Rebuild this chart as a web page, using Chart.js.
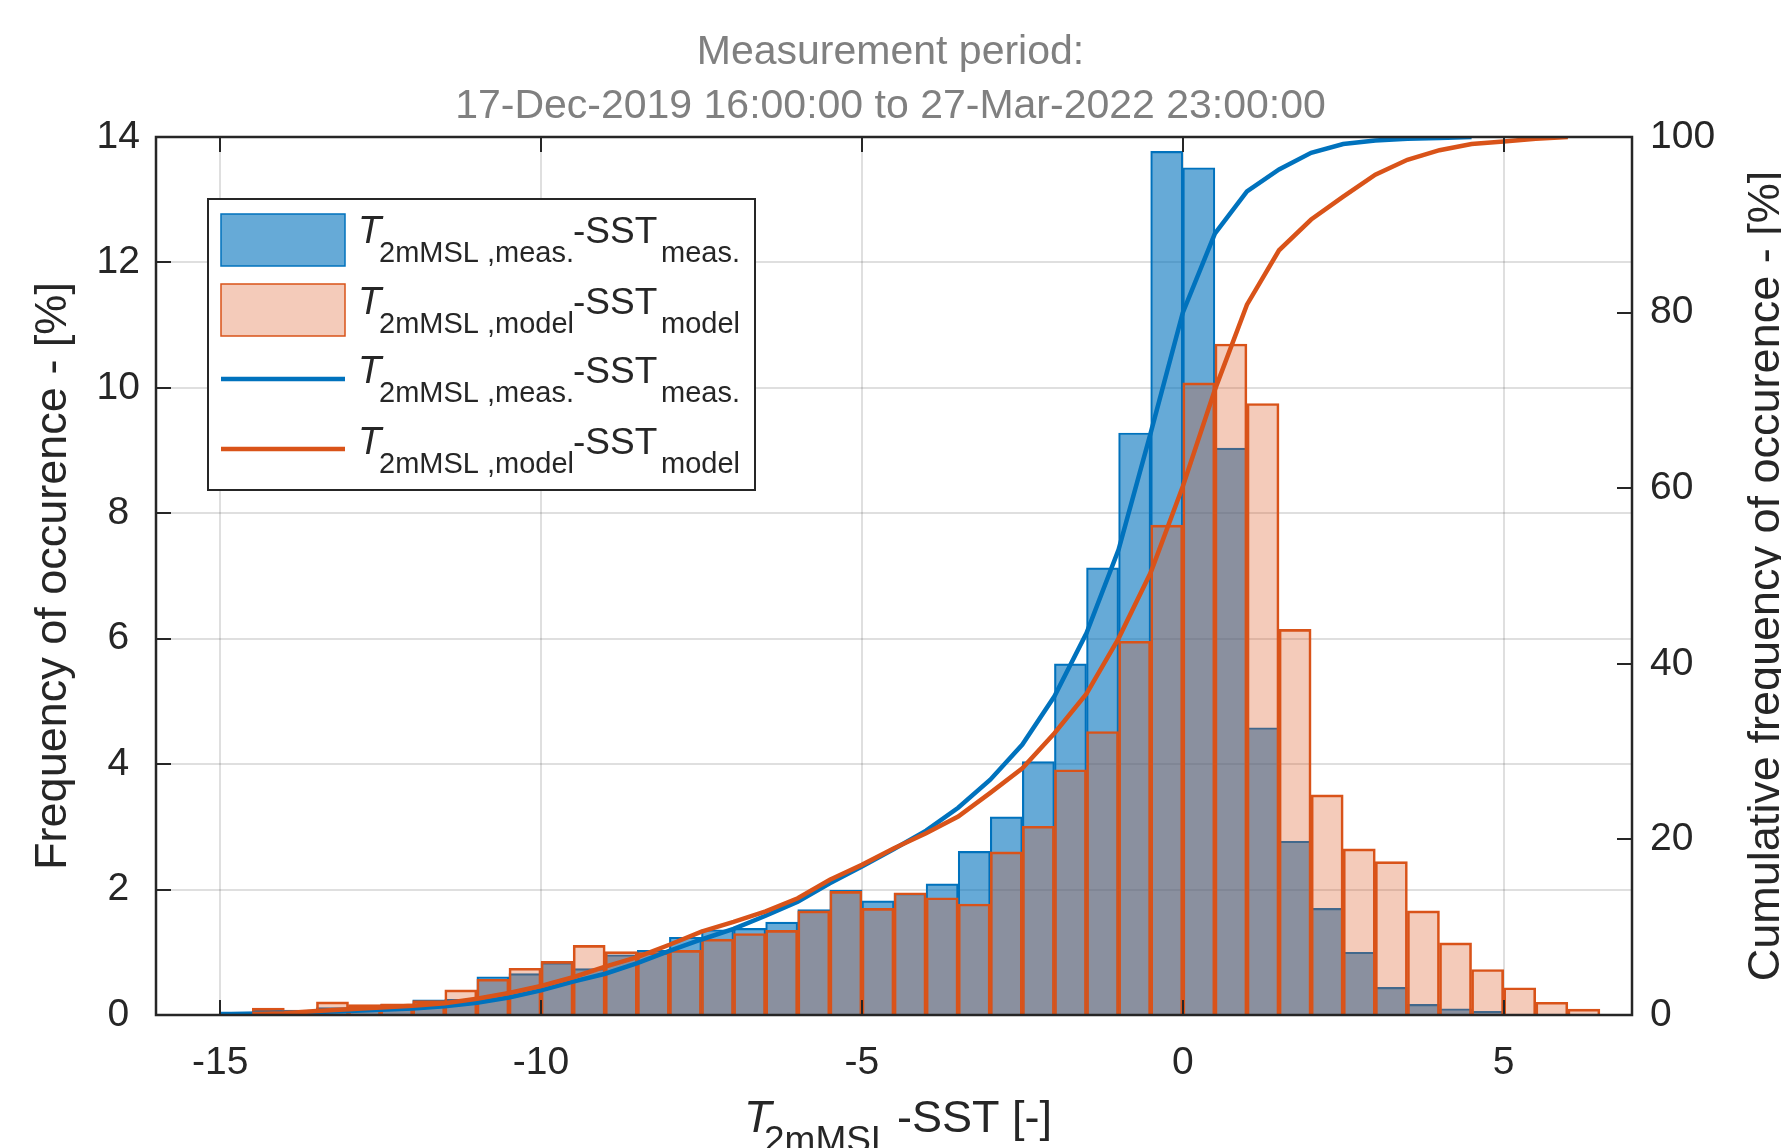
<!DOCTYPE html>
<html>
<head>
<meta charset="utf-8">
<script src="https://cdn.jsdelivr.net/npm/chart.js@4.4.1/dist/chart.umd.min.js"></script>
<style>
    html, body { margin: 0; padding: 0; background: #ffffff; }
    #caixa { width: 1781px; height: 1148px; }
</style>
</head>
<body>
<div id="caixa"><canvas id="grafico" width="1781" height="1148"></canvas></div>
<script>
// Histograma (frequencia por classe de 0.5) - centros das classes
const centrosMedido = [-14.75, -14.25, -13.75, -13.25, -12.75, -12.25, -11.75, -11.25, -10.75, -10.25,
    -9.75, -9.25, -8.75, -8.25, -7.75, -7.25, -6.75, -6.25, -5.75, -5.25,
    -4.75, -4.25, -3.75, -3.25, -2.75, -2.25, -1.75, -1.25, -0.75, -0.25,
    0.25, 0.75, 1.25, 1.75, 2.25, 2.75, 3.25, 3.75, 4.25, 4.75];
const freqMedido = [0.05, 0.08, 0.07, 0.12, 0.15, 0.17, 0.24, 0.25, 0.61, 0.66,
    0.835, 0.74, 0.96, 1.03, 1.24, 1.36, 1.38, 1.48, 1.68, 1.99,
    1.82, 1.94, 2.09, 2.61, 3.16, 4.04, 5.60, 7.13, 9.28, 13.77,
    13.51, 9.04, 4.58, 2.77, 1.70, 1.00, 0.44, 0.17, 0.10, 0.06];

const centrosModelo = [-14.25, -13.75, -13.25, -12.75, -12.25, -11.75, -11.25, -10.75, -10.25,
    -9.75, -9.25, -8.75, -8.25, -7.75, -7.25, -6.75, -6.25, -5.75, -5.25,
    -4.75, -4.25, -3.75, -3.25, -2.75, -2.25, -1.75, -1.25, -0.75, -0.25,
    0.25, 0.75, 1.25, 1.75, 2.25, 2.75, 3.25, 3.75, 4.25, 4.75, 5.25, 5.75, 6.25];
const freqModelo = [0.11, 0.08, 0.21, 0.165, 0.18, 0.23, 0.40, 0.57, 0.745,
    0.855, 1.11, 1.01, 0.995, 1.03, 1.21, 1.30, 1.35, 1.66, 1.97,
    1.70, 1.95, 1.87, 1.77, 2.60, 3.01, 3.91, 4.52, 5.96, 7.81,
    10.08, 10.70, 9.75, 6.15, 3.51, 2.65, 2.445, 1.66, 1.15, 0.725, 0.434, 0.203, 0.093];

// Frequencia acumulada (eixo direito) nos limites das classes
const limitesMedido = [-15, -14.5, -14, -13.5, -13, -12.5, -12, -11.5, -11, -10.5,
    -10, -9.5, -9, -8.5, -8, -7.5, -7, -6.5, -6, -5.5,
    -5, -4.5, -4, -3.5, -3, -2.5, -2, -1.5, -1, -0.5,
    0, 0.5, 1, 1.5, 2, 2.5, 3, 3.5, 4, 4.5];
const acumMedido = [0.05, 0.15, 0.25, 0.35, 0.45, 0.6, 0.75, 1.0, 1.4, 2.0,
    2.8, 3.8, 4.7, 5.9, 7.3, 8.6, 9.8, 11.3, 12.9, 15.0,
    16.9, 18.9, 21.0, 23.6, 26.8, 30.8, 36.3, 43.5, 53.0, 66.3,
    80.0, 89.0, 93.8, 96.3, 98.2, 99.2, 99.6, 99.8, 99.9, 100];

const limitesModelo = [-14.5, -14, -13.5, -13, -12.5, -12, -11.5, -11, -10.5, -10,
    -9.5, -9, -8.5, -8, -7.5, -7, -6.5, -6, -5.5, -5,
    -4.5, -4, -3.5, -3, -2.5, -2, -1.5, -1, -0.5, 0,
    0.5, 1, 1.5, 2, 2.5, 3, 3.5, 4, 4.5, 5, 5.5, 6];
const acumModelo = [0.1, 0.2, 0.45, 0.65, 0.85, 1.05, 1.35, 1.85, 2.5, 3.3,
    4.3, 5.5, 6.6, 8.0, 9.5, 10.6, 11.8, 13.3, 15.4, 17.1,
    19.0, 20.7, 22.6, 25.3, 28.1, 32.1, 36.6, 42.9, 50.4, 60.2,
    71.2, 80.9, 87.1, 90.6, 93.2, 95.7, 97.4, 98.5, 99.2, 99.5, 99.8, 100];

const ticksX = [-15, -10, -5, 0, 5];
const ticksY = [0, 2, 4, 6, 8, 10, 12, 14];
const ticksY2 = [0, 20, 40, 60, 80, 100];

const titulo = ["Measurement period:", "17-Dec-2019 16:00:00 to 27-Mar-2022 23:00:00"];
const rotuloY = "Frequency of occurence - [%]";
const rotuloY2 = "Cumulative frequency of occurence - [%]";
const legendas = [
    { sub1: "2mMSL ,meas.", sub2: "meas." },
    { sub1: "2mMSL ,model", sub2: "model" },
    { sub1: "2mMSL ,meas.", sub2: "meas." },
    { sub1: "2mMSL ,model", sub2: "model" },
];

const AZUL = "#0072BD";
const LARANJA = "#D95319";
const AZUL_FUNDO = "rgba(0, 114, 189, 0.6)";
const LARANJA_FUNDO = "rgba(217, 83, 25, 0.3)";
const TINTA = "#262626";
const FONTE = "'Liberation Sans', Arial, Helvetica, sans-serif";

document.addEventListener("DOMContentLoaded", function () {
    const graficoCanvas = document.getElementById("grafico");

    const pontos = (xs, ys) => xs.map((x, i) => ({ x: x, y: ys[i] }));

    // eixos estilo matlab: caixa + marcas para dentro + rotulos + legenda
    const eixosPlugin = {
        id: "eixos",
        afterDatasetsDraw(chart) {
            const { ctx, chartArea: a, scales } = chart;
            ctx.save();
            ctx.strokeStyle = TINTA;
            ctx.lineWidth = 2;
            ctx.beginPath();
            ticksX.forEach((v) => {
                const px = Math.round(scales.x.getPixelForValue(v));
                ctx.moveTo(px, a.bottom); ctx.lineTo(px, a.bottom - 15);
                ctx.moveTo(px, a.top); ctx.lineTo(px, a.top + 15);
            });
            ticksY.forEach((v) => {
                const py = Math.round(scales.y.getPixelForValue(v));
                ctx.moveTo(a.left, py); ctx.lineTo(a.left + 15, py);
            });
            ticksY2.forEach((v) => {
                const py = Math.round(scales.y2.getPixelForValue(v));
                ctx.moveTo(a.right, py); ctx.lineTo(a.right - 15, py);
            });
            ctx.stroke();
            ctx.lineWidth = 2.5;
            ctx.strokeRect(a.left, a.top, a.right - a.left, a.bottom - a.top);
            ctx.restore();
        },
        afterDraw(chart) {
            const { ctx, chartArea: a } = chart;
            const meio = (a.top + a.bottom) / 2;
            ctx.save();
            ctx.fillStyle = TINTA;
            ctx.textBaseline = "alphabetic";

            // rotulos dos eixos y (lidos de baixo para cima)
            ctx.font = "45px " + FONTE;
            ctx.textAlign = "center";
            ctx.save();
            ctx.translate(66, meio);
            ctx.rotate(-Math.PI / 2);
            ctx.fillText(rotuloY, 0, 0);
            ctx.restore();
            ctx.save();
            ctx.translate(1779, meio);
            ctx.rotate(-Math.PI / 2);
            ctx.fillText(rotuloY2, 0, 0);
            ctx.restore();

            // rotulo do eixo x com subscrito
            ctx.textAlign = "left";
            const base = 1132;
            ctx.font = "italic 45px " + FONTE; ctx.fillText("T", 744, base);
            ctx.font = "37px " + FONTE; ctx.fillText("2mMSL", 764, base + 20);
            ctx.font = "45px " + FONTE; ctx.fillText("-SST [-]", 897, base);

            // legenda
            ctx.fillStyle = "#ffffff";
            ctx.fillRect(208, 199, 547, 291);
            ctx.strokeStyle = TINTA;
            ctx.lineWidth = 2;
            ctx.strokeRect(208, 199, 547, 291);

            ctx.lineWidth = 1.5;
            ctx.fillStyle = AZUL_FUNDO; ctx.strokeStyle = AZUL;
            ctx.fillRect(221, 214, 124, 52); ctx.strokeRect(221, 214, 124, 52);
            ctx.fillStyle = LARANJA_FUNDO; ctx.strokeStyle = LARANJA;
            ctx.fillRect(221, 284, 124, 52); ctx.strokeRect(221, 284, 124, 52);
            ctx.lineWidth = 4.5;
            ctx.strokeStyle = AZUL;
            ctx.beginPath(); ctx.moveTo(221, 379); ctx.lineTo(345, 379); ctx.stroke();
            ctx.strokeStyle = LARANJA;
            ctx.beginPath(); ctx.moveTo(221, 449); ctx.lineTo(345, 449); ctx.stroke();

            const bases = [243, 314, 383, 454];
            ctx.fillStyle = TINTA;
            legendas.forEach((item, i) => {
                const b = bases[i];
                ctx.font = "italic 38px " + FONTE; ctx.fillText("T", 358, b);
                ctx.font = "29px " + FONTE; ctx.fillText(item.sub1, 379, b + 19);
                ctx.font = "37px " + FONTE; ctx.fillText("-SST", 573, b);
                ctx.font = "29px " + FONTE; ctx.fillText(item.sub2, 661, b + 19);
            });
            ctx.restore();
        },
    };

    const grade = { color: "rgba(38, 38, 38, 0.15)", lineWidth: 2, drawTicks: false, offset: false };
    const fonteTicks = { family: FONTE, size: 39 };

    const config = {
        type: "bar",
        data: {
            datasets: [
                {
                    type: "line",
                    label: "T2mMSL,model-SSTmodel (cumulative)",
                    data: pontos(limitesModelo, acumModelo),
                    yAxisID: "y2",
                    borderColor: LARANJA,
                    borderWidth: 4.5,
                    pointRadius: 0,
                    tension: 0,
                    fill: false,
                    clip: 0,
                    order: 0,
                },
                {
                    type: "line",
                    label: "T2mMSL,meas.-SSTmeas. (cumulative)",
                    data: pontos(limitesMedido, acumMedido),
                    yAxisID: "y2",
                    borderColor: AZUL,
                    borderWidth: 4.5,
                    pointRadius: 0,
                    tension: 0,
                    fill: false,
                    clip: 0,
                    order: 1,
                },
                {
                    label: "T2mMSL,model-SSTmodel",
                    data: pontos(centrosModelo, freqModelo),
                    yAxisID: "y",
                    backgroundColor: LARANJA_FUNDO,
                    borderColor: LARANJA,
                    borderWidth: 2,
                    order: 2,
                },
                {
                    label: "T2mMSL,meas.-SSTmeas.",
                    data: pontos(centrosMedido, freqMedido),
                    yAxisID: "y",
                    backgroundColor: AZUL_FUNDO,
                    borderColor: AZUL,
                    borderWidth: 1.5,
                    order: 3,
                },
            ],
        },
        options: {
            responsive: false,
            animation: false,
            devicePixelRatio: 1,
            grouped: false,
            barPercentage: 1,
            categoryPercentage: 1,
            layout: { padding: 0 },
            plugins: {
                legend: { display: false },
                tooltip: { enabled: false },
                title: {
                    display: true,
                    text: titulo,
                    color: "#808080",
                    font: { family: FONTE, size: 41, weight: "normal", lineHeight: 54 / 41 },
                    padding: { top: 26, bottom: 3 },
                },
            },
            scales: {
                x: {
                    type: "linear",
                    position: "bottom",
                    min: -16,
                    max: 7,
                    offset: false,
                    grid: grade,
                    border: { display: false },
                    ticks: { padding: 25, color: TINTA, font: fonteTicks, maxRotation: 0, autoSkip: false },
                    afterBuildTicks: (s) => { s.ticks = ticksX.map((v) => ({ value: v })); },
                    afterFit: (s) => { s.height = 133; },
                },
                y: {
                    position: "left",
                    min: 0,
                    max: 14,
                    grid: grade,
                    border: { display: false },
                    ticks: { padding: 16, crossAlign: "center", color: TINTA, font: fonteTicks },
                    afterBuildTicks: (s) => { s.ticks = ticksY.map((v) => ({ value: v })); },
                    afterFit: (s) => { s.width = 156; },
                },
                y2: {
                    position: "right",
                    min: 0,
                    max: 100,
                    grid: { display: false, drawTicks: false },
                    border: { display: false },
                    ticks: { padding: 18, color: TINTA, font: fonteTicks },
                    afterBuildTicks: (s) => { s.ticks = ticksY2.map((v) => ({ value: v })); },
                    afterFit: (s) => { s.width = 149; },
                },
            },
        },
        plugins: [eixosPlugin],
    };

    new Chart(graficoCanvas, config);
});
</script>
</body>
</html>
